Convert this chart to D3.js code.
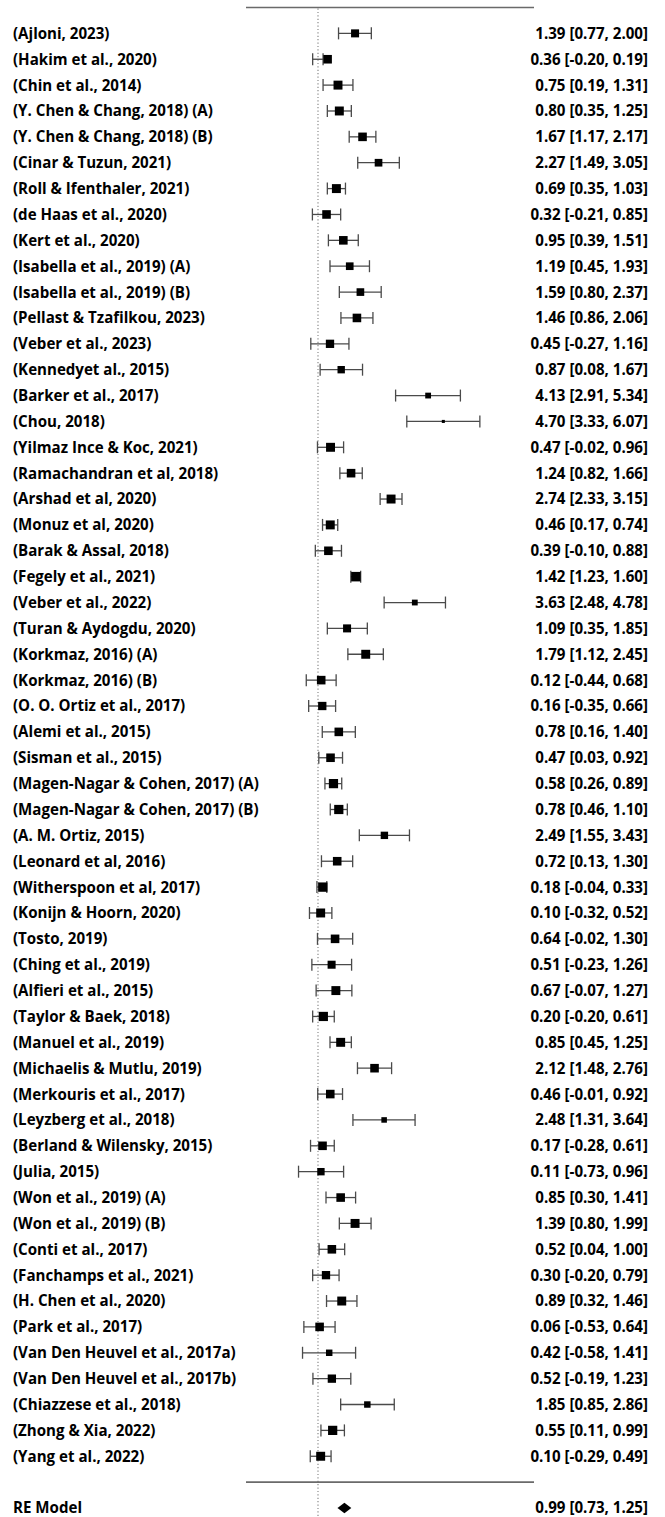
<!DOCTYPE html>
<html>
<head>
<meta charset="utf-8">
<script src="https://cdn.jsdelivr.net/npm/d3@7"></script>
<style>
  html, body { margin: 0; padding: 0; background: #fff; }
  svg { display: block; }
  text { font-family: "Open Sans", Lato, sans-serif; font-weight: 700; fill: #000; }
</style>
</head>
<body>
<script>
// Study labels, top to bottom
const studies = [
  "(Ajloni, 2023)", "(Hakim et al., 2020)", "(Chin et al., 2014)",
  "(Y. Chen & Chang, 2018) (A)", "(Y. Chen & Chang, 2018) (B)", "(Cinar & Tuzun, 2021)",
  "(Roll & Ifenthaler, 2021)", "(de Haas et al., 2020)", "(Kert et al., 2020)",
  "(Isabella et al., 2019) (A)", "(Isabella et al., 2019) (B)", "(Pellast & Tzafilkou, 2023)",
  "(Veber et al., 2023)", "(Kennedyet al., 2015)", "(Barker et al., 2017)",
  "(Chou, 2018)", "(Yilmaz Ince & Koc, 2021)", "(Ramachandran et al, 2018)",
  "(Arshad et al, 2020)", "(Monuz et al, 2020)", "(Barak & Assal, 2018)",
  "(Fegely et al., 2021)", "(Veber et al., 2022)", "(Turan & Aydogdu, 2020)",
  "(Korkmaz, 2016) (A)", "(Korkmaz, 2016) (B)", "(O. O. Ortiz et al., 2017)",
  "(Alemi et al., 2015)", "(Sisman et al., 2015)", "(Magen-Nagar & Cohen, 2017) (A)",
  "(Magen-Nagar & Cohen, 2017) (B)", "(A. M. Ortiz, 2015)", "(Leonard et al, 2016)",
  "(Witherspoon et al, 2017)", "(Konijn & Hoorn, 2020)", "(Tosto, 2019)",
  "(Ching et al., 2019)", "(Alfieri et al., 2015)", "(Taylor & Baek, 2018)",
  "(Manuel et al., 2019)", "(Michaelis & Mutlu, 2019)", "(Merkouris et al., 2017)",
  "(Leyzberg et al., 2018)", "(Berland & Wilensky, 2015)", "(Julia, 2015)",
  "(Won et al., 2019) (A)", "(Won et al., 2019) (B)", "(Conti et al., 2017)",
  "(Fanchamps et al., 2021)", "(H. Chen et al., 2020)", "(Park et al., 2017)",
  "(Van Den Heuvel et al., 2017a)", "(Van Den Heuvel et al., 2017b)", "(Chiazzese et al., 2018)",
  "(Zhong & Xia, 2022)", "(Yang et al., 2022)"
];

// Effect sizes and 95% confidence limits
const estimates = [
  1.39, 0.36, 0.75, 0.80, 1.67, 2.27, 0.69, 0.32, 0.95, 1.19, 1.59, 1.46, 0.45, 0.87,
  4.13, 4.70, 0.47, 1.24, 2.74, 0.46, 0.39, 1.42, 3.63, 1.09, 1.79, 0.12, 0.16, 0.78,
  0.47, 0.58, 0.78, 2.49, 0.72, 0.18, 0.10, 0.64, 0.51, 0.67, 0.20, 0.85, 2.12, 0.46,
  2.48, 0.17, 0.11, 0.85, 1.39, 0.52, 0.30, 0.89, 0.06, 0.42, 0.52, 1.85, 0.55, 0.10
];
const ciLower = [
  0.77, -0.20, 0.19, 0.35, 1.17, 1.49, 0.35, -0.21, 0.39, 0.45, 0.80, 0.86, -0.27, 0.08,
  2.91, 3.33, -0.02, 0.82, 2.33, 0.17, -0.10, 1.23, 2.48, 0.35, 1.12, -0.44, -0.35, 0.16,
  0.03, 0.26, 0.46, 1.55, 0.13, -0.04, -0.32, -0.02, -0.23, -0.07, -0.20, 0.45, 1.48, -0.01,
  1.31, -0.28, -0.73, 0.30, 0.80, 0.04, -0.20, 0.32, -0.53, -0.58, -0.19, 0.85, 0.11, -0.29
];
const ciUpper = [
  2.00, 0.19, 1.31, 1.25, 2.17, 3.05, 1.03, 0.85, 1.51, 1.93, 2.37, 2.06, 1.16, 1.67,
  5.34, 6.07, 0.96, 1.66, 3.15, 0.74, 0.88, 1.60, 4.78, 1.85, 2.45, 0.68, 0.66, 1.40,
  0.92, 0.89, 1.10, 3.43, 1.30, 0.33, 0.52, 1.30, 1.26, 1.27, 0.61, 1.25, 2.76, 0.92,
  3.64, 0.61, 0.96, 1.41, 1.99, 1.00, 0.79, 1.46, 0.64, 1.41, 1.23, 2.86, 0.99, 0.49
];

// Relative study weights (%), shown as marker area
const weights = [
  1.51, 1.73, 1.88, 1.88, 1.73, 1.38, 1.88, 1.73, 1.73, 1.38, 1.38, 1.73, 1.62, 1.28,
  0.79, 0.22, 1.88, 1.73, 1.88, 1.88, 1.73, 2.12, 0.79, 1.51, 1.88, 1.73, 1.62, 1.73,
  1.73, 2.00, 2.00, 1.28, 1.73, 2.05, 1.88, 1.73, 1.51, 1.88, 2.00, 1.88, 1.73, 1.73,
  0.72, 1.73, 1.28, 1.73, 1.88, 1.73, 1.62, 1.88, 1.73, 0.98, 1.62, 0.98, 2.00, 1.88
];

// Pooled random-effects estimate
const pooledLabel = "RE Model";
const pooled = { est: 0.99, lo: 0.73, hi: 1.25 };

// Horizontal plotting limits (effect-size units)
const xLimits = [-2.7, 8.1];

const W = 665, H = 1517;
const k = studies.length;

const svg = d3.select("body").append("svg")
  .attr("width", W).attr("height", H);

const x = d3.scaleLinear().domain(xLimits).range([246, 534]);
// rows: k..1 for studies, 0 = separator, -1 = pooled, k+1 = top rule
const y = d3.scaleLinear().domain([-1, k + 1]).range([1508, 7.5]);
const size = d3.scaleSqrt().domain([0, d3.max(weights)]).range([0, 9.5]);

const fmt = d3.format(".2f");
const num = v => fmt(v).replace("\u2212", "-");
const ciText = (e, l, u) => `${num(e)} [${num(l)}, ${num(u)}]`;

const rows = studies.map((s, i) => ({
  label: s, est: estimates[i], lo: ciLower[i], hi: ciUpper[i], w: weights[i], row: k - i
}));

// reference line at zero
svg.append("line")
  .attr("x1", x(0)).attr("x2", x(0))
  .attr("y1", y(k + 1) + 1).attr("y2", H)
  .attr("stroke", "#8a8a8a").attr("stroke-width", 1.2)
  .attr("stroke-dasharray", "1.2,2.2");

// top and bottom rules
[k + 1, 0].forEach(r => {
  svg.append("line")
    .attr("x1", x(xLimits[0])).attr("x2", x(xLimits[1]))
    .attr("y1", y(r)).attr("y2", y(r))
    .attr("stroke", "#6a6a6a").attr("stroke-width", 1.6);
});

const g = svg.append("g").selectAll("g").data(rows).join("g")
  .attr("transform", d => `translate(0,${y(d.row)})`);

// confidence interval whiskers
const ciStroke = "#4a4a4a";
g.append("line")
  .attr("x1", d => x(d.lo)).attr("x2", d => x(d.hi))
  .attr("stroke", ciStroke).attr("stroke-width", 1.3);
g.append("line")
  .attr("x1", d => x(d.lo)).attr("x2", d => x(d.lo))
  .attr("y1", -6).attr("y2", 6)
  .attr("stroke", ciStroke).attr("stroke-width", 1.3);
g.append("line")
  .attr("x1", d => x(d.hi)).attr("x2", d => x(d.hi))
  .attr("y1", -6).attr("y2", 6)
  .attr("stroke", ciStroke).attr("stroke-width", 1.3);

// point estimates
g.append("rect")
  .attr("x", d => x(d.est) - size(d.w) / 2)
  .attr("y", d => -size(d.w) / 2)
  .attr("width", d => size(d.w))
  .attr("height", d => size(d.w))
  .attr("fill", "#000");

const fs = 15.1;
g.append("text")
  .attr("x", 13).attr("dy", "0.36em")
  .attr("font-size", fs)
  .text(d => d.label);
g.append("text")
  .attr("x", 648).attr("dy", "0.36em")
  .attr("text-anchor", "end")
  .attr("font-size", fs)
  .text(d => ciText(d.est, d.lo, d.hi));

// pooled estimate
const yP = y(-1);
const dh = 5.2;
svg.append("path")
  .attr("d", `M${x(pooled.lo)},${yP} L${x(pooled.est)},${yP - dh} L${x(pooled.hi)},${yP} L${x(pooled.est)},${yP + dh} Z`)
  .attr("fill", "#000");
svg.append("text")
  .attr("x", 13).attr("y", yP).attr("dy", "0.36em")
  .attr("font-size", fs).text(pooledLabel);
svg.append("text")
  .attr("x", 648).attr("y", yP).attr("dy", "0.36em")
  .attr("text-anchor", "end")
  .attr("font-size", fs).text(ciText(pooled.est, pooled.lo, pooled.hi));
</script>
</body>
</html>
